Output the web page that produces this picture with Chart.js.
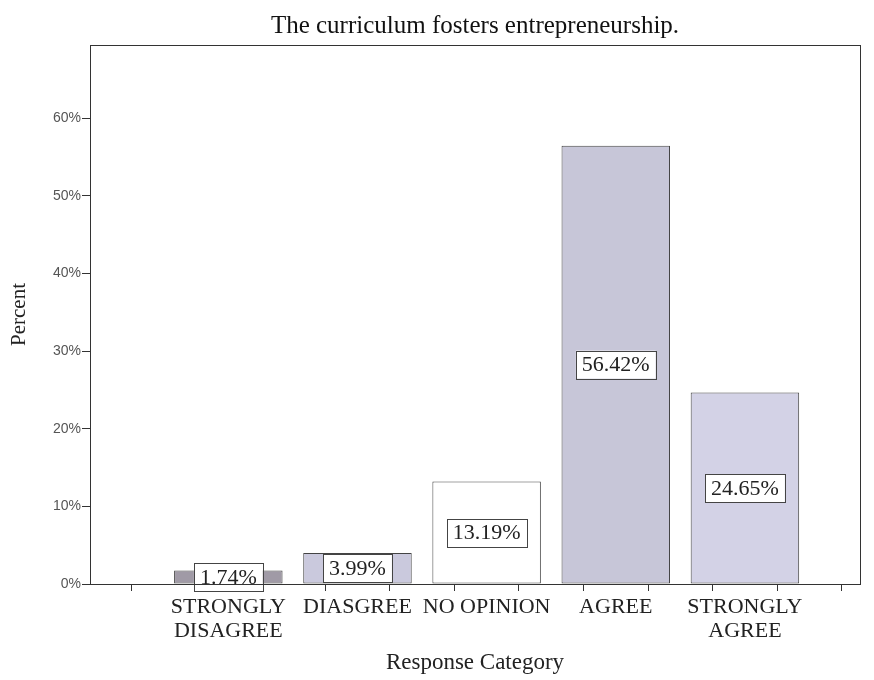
<!DOCTYPE html>
<html>
<head>
<meta charset="utf-8">
<script src="https://cdn.jsdelivr.net/npm/chart.js@4.4.1/dist/chart.umd.min.js"></script>
<style>
  body { margin: 0; background: #fff; }
  #wrap { width: 874px; height: 680px; }
</style>
</head>
<body>
<div id="wrap"><canvas id="c" width="874" height="680"></canvas></div>
<script>
// survey item: share of responses per category
const categories = [['STRONGLY', 'DISAGREE'], 'DIASGREE', 'NO OPINION', 'AGREE', ['STRONGLY', 'AGREE']];
const percents = [1.74, 3.99, 13.19, 56.42, 24.65];
const barColors = ['#a09aa6', '#cac9dd', '#ffffff', '#c7c6d8', '#d3d2e6'];
const yTicks = [0, 10, 20, 30, 40, 50, 60];

const SERIF = '"Liberation Serif", "DejaVu Serif", serif';

// bars sit at x = 0..4 on a linear axis so the frame can have SPSS-like padding
const points = percents.map((v, i) => ({x: i, y: v}));

// white boxed value labels in the middle of each bar
const valueBoxes = {
  id: 'valueBoxes',
  afterDatasetsDraw(chart){
    const ctx = chart.ctx;
    const meta = chart.getDatasetMeta(0);
    ctx.save();
    ctx.font = '22px ' + SERIF;
    ctx.textAlign = 'center';
    ctx.textBaseline = 'middle';
    meta.data.forEach((bar, i) => {
      const txt = percents[i].toFixed(2) + '%';
      const cy = (bar.y + bar.base) / 2;
      const w = ctx.measureText(txt).width + 12;
      const h = 28;
      ctx.fillStyle = '#fff';
      ctx.fillRect(bar.x - w/2, cy - h/2, w, h);
      ctx.strokeStyle = '#444';
      ctx.lineWidth = 1;
      ctx.strokeRect(Math.round(bar.x - w/2) + 0.5, Math.round(cy - h/2) + 0.5, Math.round(w), h);
      ctx.fillStyle = '#222';
      ctx.fillText(txt, bar.x, cy + 1);
    });
    ctx.restore();
  }
};

// box round the plot area
const frame = {
  id: 'frame',
  afterDraw(chart){
    const a = chart.chartArea;
    const ctx = chart.ctx;
    ctx.save();
    ctx.strokeStyle = '#333';
    ctx.lineWidth = 1;
    ctx.strokeRect(Math.round(a.left) + 0.5, Math.round(a.top) + 0.5, Math.round(a.right - a.left), Math.round(a.bottom - a.top));
    ctx.restore();
  }
};

new Chart(document.getElementById('c'), {
  type: 'bar',
  data: {
    datasets: [{
      data: points,
      backgroundColor: barColors,
      borderColor: '#444',
      borderWidth: 1,
      borderSkipped: false,
      barPercentage: 1.68,
      categoryPercentage: 1
    }]
  },
  options: {
    responsive: false,
    animation: false,
    layout: { padding: { left: 0, right: 14, top: 0, bottom: 0 } },
    plugins: {
      legend: { display: false },
      tooltip: { enabled: false },
      title: {
        display: true,
        text: 'The curriculum fosters entrepreneurship.',
        fullSize: false,
        color: '#111',
        font: { family: SERIF, size: 25, weight: 'normal', lineHeight: 1.2 },
        padding: { top: 11, bottom: 4 }
      }
    },
    scales: {
      x: {
        type: 'linear',
        min: -0.8,
        max: 4.62,
        afterBuildTicks(scale){
          const t = [];
          for (let i = -1; i <= 9; i++) t.push({value: i / 2});
          scale.ticks = t;
        },
        afterFit(scale){ scale.height = 96; },
        grid: { drawOnChartArea: false, drawTicks: true, tickLength: 7, color: '#333' },
        border: { color: '#333' },
        ticks: {
          autoSkip: false,
          maxRotation: 0,
          padding: 4,
          color: '#222',
          font: { family: SERIF, size: 22, lineHeight: 1.1 },
          callback(v){ return Number.isInteger(v) ? categories[v] : ''; }
        },
        title: {
          display: true,
          text: 'Response Category',
          color: '#222',
          font: { family: SERIF, size: 23 },
          padding: { top: 6, bottom: 3 }
        }
      },
      y: {
        min: 0,
        max: 69.4,
        afterBuildTicks(scale){ scale.ticks = yTicks.map(v => ({value: v})); },
        afterFit(scale){ scale.width = 90; },
        grid: { drawOnChartArea: false, drawTicks: true, tickLength: 8, color: '#333' },
        border: { color: '#333' },
        ticks: {
          padding: 1,
          color: '#555',
          font: { family: '"Liberation Sans", Arial, sans-serif', size: 14 },
          callback(v){ return v + '%'; }
        },
        title: {
          display: true,
          text: 'Percent',
          color: '#222',
          font: { family: SERIF, size: 21 },
          padding: { top: 7, bottom: 4 }
        }
      }
    }
  },
  plugins: [valueBoxes, frame]
});
</script>
</body>
</html>
